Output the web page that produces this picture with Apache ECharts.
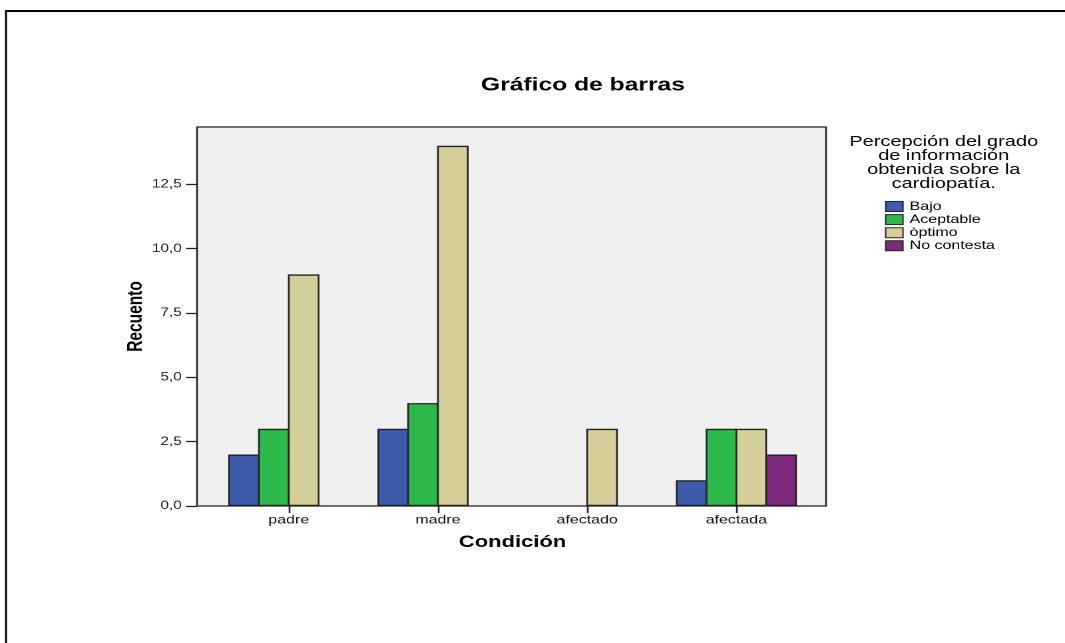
<!DOCTYPE html>
<html>
<head>
<meta charset="utf-8">
<title>Gráfico de barras</title>
<script src="https://cdn.jsdelivr.net/npm/echarts@6/dist/echarts.min.js"></script>
<style>
  html, body { margin: 0; padding: 0; background: #ffffff; overflow: hidden; }
  /* the chart is laid out on an 800px-wide canvas and widened to the 1065px page */
  #chart {
    position: absolute; left: 0; top: 0;
    width: 800px; height: 643px;
    transform: scaleX(1.33125); transform-origin: 0 0;
  }
</style>
</head>
<body>
<div id="chart"></div>
<script>
// Counts per condition for each level of perceived information
const categories = ['padre', 'madre', 'afectado', 'afectada'];
const bajo       = [2, 3, 0, 1];
const aceptable  = [3, 4, 0, 3];
const optimo     = [9, 14, 3, 3];
const noContesta = [0, 0, 0, 2];

const seriesNames  = ['Bajo', 'Aceptable', 'òptimo', 'No contesta'];
const seriesColors = ['#3d5aab', '#2db84b', '#d4cf98', '#7d2a7c'];
const yTicks = [0, 2.5, 5, 7.5, 10, 12.5];

const FONT = '"Liberation Sans", Arial, Helvetica, sans-serif';
const Y_MAX = 14.73;
const BAR_W = 23.7;
const BAR_BORDER = 1.3;

const chart = echarts.init(document.getElementById('chart'), null, {
  renderer: 'canvas', devicePixelRatio: 2
});

// zero counts are left empty so no bar is drawn for them
const asBars = arr => arr.map(v => (v === 0 ? '-' : v));

const valueSets = [bajo, aceptable, optimo, noContesta];

const option = {
  animation: false,
  backgroundColor: '#ffffff',
  textStyle: { fontFamily: FONT },
  title: [
    {
      text: 'Gráfico de barras',
      left: 437.9, top: 76, textAlign: 'center', padding: 0,
      textStyle: { fontFamily: FONT, fontSize: 18.5, fontWeight: 'bold', color: '#000' }
    },
    {
      text: 'Percepción del grado\nde información\nobtenida sobre la\ncardiopatía.',
      left: 708.9, top: 135, textAlign: 'center', padding: 0,
      textStyle: { fontFamily: FONT, fontSize: 15, lineHeight: 14, fontWeight: 'normal', color: '#000', align: 'center' }
    }
  ],
  legend: {
    orient: 'vertical',
    left: 664.8, top: 200.5,
    padding: 0,
    itemWidth: 13, itemHeight: 10, itemGap: 1.1,
    icon: 'rect',
    itemStyle: { borderColor: '#222', borderWidth: 1 },
    textStyle: { fontFamily: FONT, fontSize: 12, lineHeight: 12, color: '#000', padding: [0, 0, 0, 0] },
    data: seriesNames
  },
  graphic: [
    { type: 'line', silent: true, shape: { x1: 4.5, y1: 11, x2: 4.5, y2: 660 },
      style: { stroke: '#000', lineWidth: 1.5 } },
    { type: 'line', silent: true, shape: { x1: 3.75, y1: 11, x2: 820, y2: 11 },
      style: { stroke: '#000', lineWidth: 2 } }
  ],
  grid: [
    // plot frame with the count axis
    { left: 148, top: 127, width: 472.5, height: 379, show: true,
      backgroundColor: '#f0f0f0', borderColor: '#222', borderWidth: 1.3 },
    // band that holds the four condition groups
    { left: 160.86, top: 127, width: 448.3, height: 379 }
  ],
  xAxis: [
    { gridIndex: 0, type: 'value', min: 0, max: 1, show: false },
    {
      gridIndex: 1, type: 'category', data: categories,
      axisLine: { show: false },
      axisTick: { show: true, alignWithLabel: true, length: 7, lineStyle: { color: '#222', width: 1.3 } },
      axisLabel: { margin: 8, fontFamily: FONT, fontSize: 12, color: '#111' },
      name: 'Condición', nameLocation: 'middle', nameGap: 28, nameMoveOverlap: false,
      nameTextStyle: { fontFamily: FONT, fontSize: 16.5, fontWeight: 'bold', color: '#000' }
    }
  ],
  yAxis: [
    {
      gridIndex: 0, type: 'value', min: 0, max: Y_MAX, interval: 2.5,
      axisLine: { show: false },
      splitLine: { show: false },
      axisTick: { show: true, length: 8.3, customValues: yTicks, lineStyle: { color: '#222', width: 1.3 } },
      axisLabel: {
        margin: 11.5, fontFamily: FONT, fontSize: 11.5, color: '#222',
        customValues: yTicks,
        formatter: v => v.toFixed(1).replace('.', ',')
      },
      name: 'Recuento', nameLocation: 'middle', nameGap: 38, nameRotate: 90, nameMoveOverlap: false,
      nameTextStyle: { fontFamily: FONT, fontSize: 15.5, fontWeight: 'bold', color: '#000' }
    },
    { gridIndex: 1, type: 'value', min: 0, max: Y_MAX, show: false }
  ],
  series: seriesNames.map((name, i) => ({
    name,
    type: 'bar',
    xAxisIndex: 1, yAxisIndex: 1,
    barWidth: BAR_W,
    // neighbouring bars share one outline
    barGap: (-100 * BAR_BORDER / BAR_W).toFixed(2) + '%',
    data: asBars(valueSets[i]),
    itemStyle: { color: seriesColors[i], borderColor: '#222', borderWidth: BAR_BORDER }
  }))
};

chart.setOption(option);
</script>
</body>
</html>
